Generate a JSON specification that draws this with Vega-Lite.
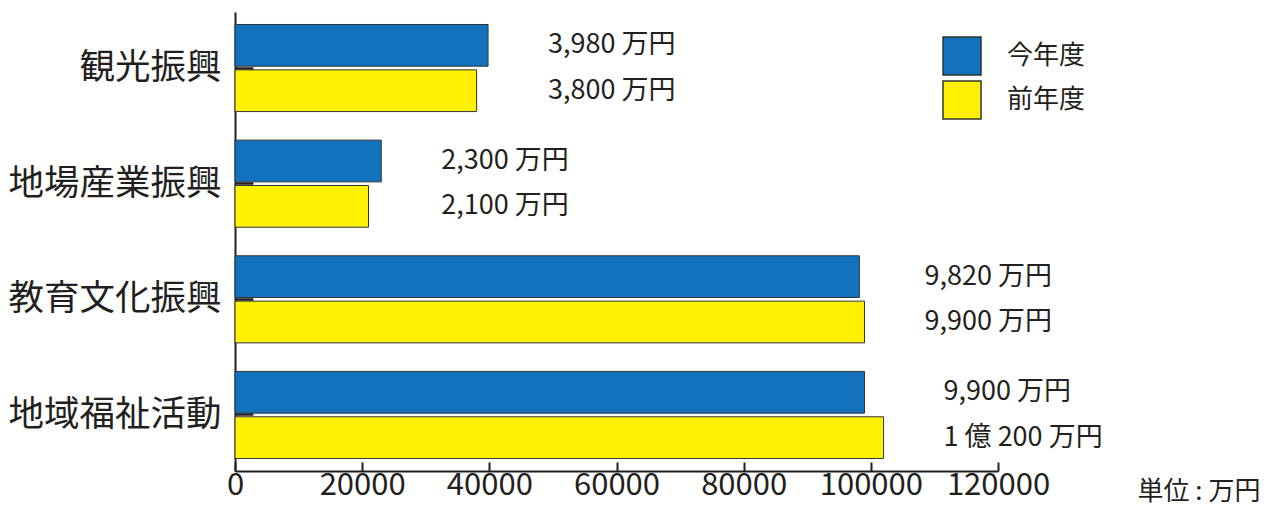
{
  "$schema": "https://vega.github.io/schema/vega-lite/v6.json",
  "autosize": "none",
  "width": 763,
  "height": 459,
  "padding": {"left": 235, "top": 12, "right": 271, "bottom": 34},
  "background": "white",
  "config": {
    "view": {"stroke": null},
    "font": "Noto Sans CJK JP"
  },
  "data": {
    "values": [
      {"category": "観光振興", "series": "今年度", "value": 39800, "label": "3,980 万円"},
      {"category": "観光振興", "series": "前年度", "value": 38000, "label": "3,800 万円"},
      {"category": "地場産業振興", "series": "今年度", "value": 23000, "label": "2,300 万円"},
      {"category": "地場産業振興", "series": "前年度", "value": 21000, "label": "2,100 万円"},
      {"category": "教育文化振興", "series": "今年度", "value": 98200, "label": "9,820 万円"},
      {"category": "教育文化振興", "series": "前年度", "value": 99000, "label": "9,900 万円"},
      {"category": "地域福祉活動", "series": "今年度", "value": 99000, "label": "9,900 万円"},
      {"category": "地域福祉活動", "series": "前年度", "value": 102000, "label": "1 億 200 万円"}
    ]
  },
  "transform": [
    {"joinaggregate": [{"op": "max", "field": "value", "as": "maxv"}], "groupby": ["category"]}
  ],
  "encoding": {
    "y": {
      "field": "category",
      "type": "nominal",
      "sort": ["観光振興", "地場産業振興", "教育文化振興", "地域福祉活動"],
      "scale": {"paddingInner": 0.247, "paddingOuter": 0.108},
      "axis": {
        "title": null,
        "labelFontSize": 35.5,
        "labelColor": "#231f20",
        "labelPadding": 32,
        "labelLimit": 0,
        "domainColor": "#231f20",
        "domainWidth": 2,
        "tickColor": "#231f20",
        "tickWidth": 2.5,
        "tickSize": -18,
        "labelFont": "Noto Sans CJK JP"
      }
    },
    "yOffset": {
      "field": "series",
      "type": "nominal",
      "sort": ["今年度", "前年度"],
      "scale": {"paddingInner": 0.08}
    }
  },
  "layer": [
    {
      "mark": {"type": "bar", "stroke": "#333333", "strokeWidth": 1},
      "encoding": {
        "x": {
          "field": "value",
          "type": "quantitative",
          "scale": {"domain": [0, 120000], "nice": false},
          "axis": {
            "values": [0, 20000, 40000, 60000, 80000, 100000, 120000],
            "format": "d",
            "grid": false,
            "labelFontSize": 31,
            "labelColor": "#231f20",
            "labelFont": "Noto Sans CJK JP",
            "labelFlush": false,
            "labelPadding": 8,
            "domainColor": "#231f20",
            "domainWidth": 2,
            "tickColor": "#231f20",
            "tickWidth": 2,
            "tickSize": -9,
            "title": "単位 : 万円",
            "titleFontSize": 26,
            "titleFontWeight": "normal",
            "titleColor": "#231f20",
            "titleAnchor": "start",
            "titleAlign": "left",
            "titleBaseline": "middle",
            "titleX": 902,
            "titleY": 20
          }
        },
        "color": {
          "field": "series",
          "type": "nominal",
          "sort": ["今年度", "前年度"],
          "scale": {"domain": ["今年度", "前年度"], "range": ["#1272bd", "#fff100"]},
          "legend": {
            "title": null,
            "orient": "none",
            "legendX": 707,
            "legendY": 24,
            "symbolType": "square",
            "symbolSize": 1444,
            "symbolStrokeColor": "#333333",
            "symbolStrokeWidth": 1.5,
            "symbolOpacity": 1,
            "labelFontSize": 26,
            "labelColor": "#231f20",
            "labelOffset": 25,
            "rowPadding": 0,
            "labelFont": "Noto Sans CJK JP"
          }
        }
      }
    },
    {
      "mark": {"type": "text", "align": "left", "baseline": "middle", "dx": 60, "fontSize": 27, "color": "#231f20", "font": "Noto Sans CJK JP"},
      "encoding": {
        "x": {"field": "maxv", "type": "quantitative"},
        "text": {"field": "label"}
      }
    }
  ]
}
